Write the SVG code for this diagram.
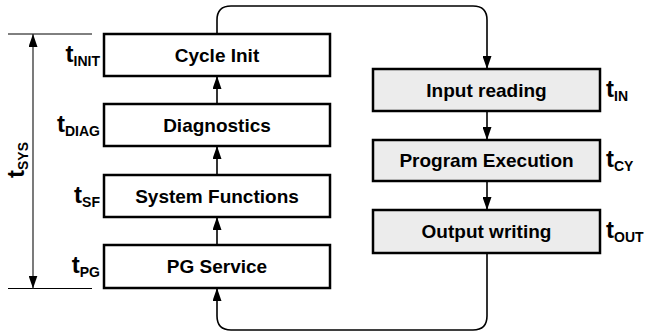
<svg xmlns="http://www.w3.org/2000/svg" width="646" height="336" viewBox="0 0 646 336">
<style>
.box{fill:#ffffff;stroke:#000;stroke-width:2.5}
.gbox{fill:#ececec;stroke:#000;stroke-width:2.5}
.lbl{font-family:"Liberation Sans",Arial,sans-serif;font-weight:bold;font-size:19px;text-anchor:middle;fill:#000}
.t{font-family:"Liberation Sans",Arial,sans-serif;font-weight:bold;font-size:24px;fill:#000}
.sub{font-size:14px}
.conn{fill:none;stroke:#000;stroke-width:1.6}
.tl{fill:none;stroke:#000;stroke-width:1}
</style>
<defs>
<marker id="ah2" viewBox="0 0 13 9" refX="13" refY="4.5" markerWidth="13" markerHeight="9" markerUnits="userSpaceOnUse" orient="auto"><path d="M0,0 L13,4.5 L0,9 Z" fill="#000"/></marker>
</defs>
<g id="connectors">
<path class="conn" d="M217,34 V20 Q217,6 231,6 H473 Q487,6 487,20 V69" marker-end="url(#ah2)"/>
<path class="conn" d="M217,104 V76" marker-end="url(#ah2)"/>
<path class="conn" d="M217,175 V146" marker-end="url(#ah2)"/>
<path class="conn" d="M217,245 V217" marker-end="url(#ah2)"/>
<path class="conn" d="M487,111 V140" marker-end="url(#ah2)"/>
<path class="conn" d="M487,181 V210" marker-end="url(#ah2)"/>
<path class="conn" d="M487,253 V316 Q487,330 473,330 H231 Q217,330 217,316 V288" marker-end="url(#ah2)"/>
</g>
<g id="timeline">
<line class="tl" x1="8" y1="34" x2="92" y2="34"/>
<line class="tl" x1="8" y1="288.5" x2="92" y2="288.5"/>
<line x1="33" y1="160" x2="33" y2="34" stroke="#333" stroke-width="1.3" marker-end="url(#ah2)"/>
<line x1="33" y1="160" x2="33" y2="288.5" stroke="#333" stroke-width="1.3" marker-end="url(#ah2)"/>
<text class="t" transform="translate(24,160) rotate(-90)" text-anchor="middle">t<tspan class="sub" dy="4">SYS</tspan></text>
</g>
<g id="cycle-init">
<rect class="box" x="104" y="34" width="226" height="42"/>
<text class="lbl" x="217" y="61.6">Cycle Init</text>
<text class="t" x="100" y="61.6" text-anchor="end">t<tspan class="sub" dy="4">INIT</tspan></text>
</g>
<g id="diagnostics">
<rect class="box" x="104" y="104" width="226" height="42"/>
<text class="lbl" x="217" y="131.6">Diagnostics</text>
<text class="t" x="100" y="131.6" text-anchor="end">t<tspan class="sub" dy="4">DIAG</tspan></text>
</g>
<g id="system-functions">
<rect class="box" x="104" y="175" width="226" height="42"/>
<text class="lbl" x="217" y="202.6">System Functions</text>
<text class="t" x="100" y="202.6" text-anchor="end">t<tspan class="sub" dy="4">SF</tspan></text>
</g>
<g id="pg-service">
<rect class="box" x="104" y="245" width="226" height="43"/>
<text class="lbl" x="217" y="273">PG Service</text>
<text class="t" x="100" y="273" text-anchor="end">t<tspan class="sub" dy="4">PG</tspan></text>
</g>
<g id="input-reading">
<rect class="gbox" x="373" y="69" width="227" height="42"/>
<text class="lbl" x="486.5" y="96.6">Input reading</text>
<text class="t" x="606" y="96.6">t<tspan class="sub" dy="4">IN</tspan></text>
</g>
<g id="program-execution">
<rect class="gbox" x="373" y="140" width="227" height="41"/>
<text class="lbl" x="486.5" y="167.1">Program Execution</text>
<text class="t" x="606" y="167.1">t<tspan class="sub" dy="4">CY</tspan></text>
</g>
<g id="output-writing">
<rect class="gbox" x="373" y="210" width="227" height="43"/>
<text class="lbl" x="486.5" y="238">Output writing</text>
<text class="t" x="606" y="238">t<tspan class="sub" dy="4">OUT</tspan></text>
</g>
</svg>
